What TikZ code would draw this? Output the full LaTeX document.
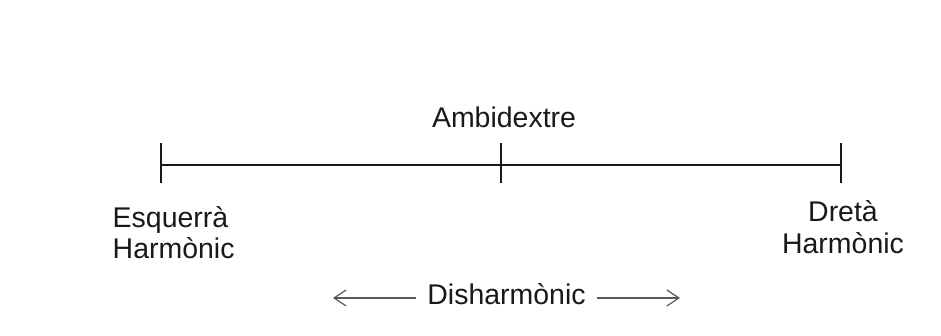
\documentclass[tikz,border=0pt]{standalone}
\usepackage{fontspec}
\setmainfont{Liberation Sans}
\usetikzlibrary{arrows.meta,calc}
\usepackage{tkz-euclide}
\definecolor{TextClr}{rgb}{0.1,0.1,0.1}
\definecolor{ArrowClr}{rgb}{0.35,0.35,0.35}

\begin{document}
\begin{tikzpicture}[font=\fontsize{8.1}{9.1}\selectfont,
  lbl/.style={inner sep=0pt,text=TextClr},
  arr/.style={-{Straight Barb[length=1.2mm,width=1.6mm]},line width=.35pt,color=ArrowClr}]
\useasboundingbox (0,0) rectangle (9.41,3.36);
\tkzSetUpLine[line width=.7pt,color=TextClr]

\tkzDefPoints{1.61/1.71/E,5.01/1.71/A,8.41/1.71/D}
\coordinate (L) at (3.33,.38);
\coordinate (R) at (6.80,.38);

\tkzDrawSegment(E,D)
\foreach \p in {E,A,D}
  \draw[line width=.7pt,color=TextClr] ([yshift=.22cm]\p) -- ([yshift=-.18cm]\p);

\node[lbl,anchor=base] (amb) at (5.04,2.08) {Ambidextre};
\node[lbl,anchor=base west,align=left] (esq) at (1.12,.77) {Esquerrà\\Harmònic};
\node[lbl,anchor=base,align=center] (dre) at (8.43,.82) {Dretà\\Harmònic};
\node[lbl,anchor=base,inner xsep=.11cm] (dis) at (5.065,.31) {Disharmònic};

\draw[arr] (L -| dis.west) -- (L);
\draw[arr] (R -| dis.east) -- (R);

\end{tikzpicture}
\end{document}
